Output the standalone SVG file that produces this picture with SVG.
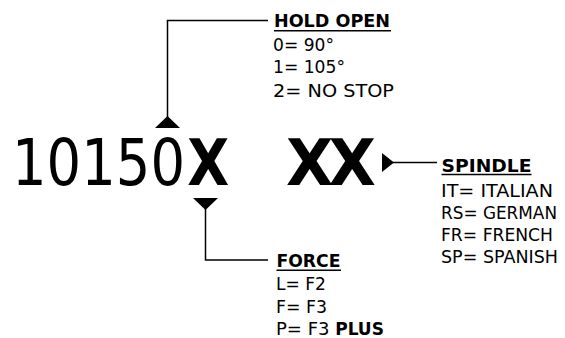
<svg xmlns="http://www.w3.org/2000/svg" width="565" height="338" viewBox="0 0 565 338">
<style>
.t{font-family:"DejaVu Sans","Liberation Sans",sans-serif;fill:#000}
.r{font-size:18px}
.b{font-size:17px;font-weight:bold}
.big{font-size:64px}
.bw{font-weight:bold}
.bx{font-size:64px;font-weight:bold}
.ul{stroke:#000;stroke-width:1.5}
.c{fill:none;stroke:#000;stroke-width:1.5}
.tri{fill:#000}
</style>
<rect width="565" height="338" fill="#fff"/>
<g id="code">
<text class="t big" transform="translate(12,185) scale(0.85,1)">10150<tspan class="bw" dx="2.5">X</tspan></text>
<text class="t bx" transform="translate(286,185) scale(0.96,1)" letter-spacing="-5">XX</text>
</g>
<g id="connectors">
<path class="c" d="M167.5,117 V20.5 H268"/>
<polygon class="tri" points="155,128 180,128 167.5,116"/>
<path class="c" d="M205.5,209 V260 H268"/>
<polygon class="tri" points="193,198 218,198 205.5,210"/>
<path class="c" d="M393,162.5 H437" stroke-width="1.2"/>
<polygon class="tri" points="382,153 382,172 394,162.5"/>
</g>
<g id="hold-open">
<text class="t b" x="274" y="27" textLength="116" lengthAdjust="spacingAndGlyphs">HOLD OPEN</text>
<line class="ul" x1="274" y1="30.7" x2="391" y2="30.7"/>
<text class="t r" x="273" y="50.5" textLength="61" lengthAdjust="spacingAndGlyphs">0= 90°</text>
<text class="t r" x="273" y="73" textLength="72" lengthAdjust="spacingAndGlyphs">1= 105°</text>
<text class="t r" x="273" y="96.5" textLength="121" lengthAdjust="spacingAndGlyphs">2= NO STOP</text>
</g>
<g id="spindle">
<text class="t b" x="441.5" y="171.7" textLength="90" lengthAdjust="spacingAndGlyphs">SPINDLE</text>
<line class="ul" x1="441.5" y1="174.5" x2="531.5" y2="174.5"/>
<text class="t r" x="441" y="196.7" textLength="112" lengthAdjust="spacingAndGlyphs">IT= ITALIAN</text>
<text class="t r" x="441" y="218.5" textLength="116" lengthAdjust="spacingAndGlyphs">RS= GERMAN</text>
<text class="t r" x="441" y="240.5" textLength="112" lengthAdjust="spacingAndGlyphs">FR= FRENCH</text>
<text class="t r" x="441" y="263" textLength="117" lengthAdjust="spacingAndGlyphs">SP= SPANISH</text>
</g>
<g id="force">
<text class="t b" x="276.5" y="267" textLength="64" lengthAdjust="spacingAndGlyphs">FORCE</text>
<line class="ul" x1="276.5" y1="270.2" x2="341" y2="270.2"/>
<text class="t r" x="276" y="290" textLength="50" lengthAdjust="spacingAndGlyphs">L= F2</text>
<text class="t r" x="276" y="312.5" textLength="51" lengthAdjust="spacingAndGlyphs">F= F3</text>
<text class="t r" x="276" y="334.5">P= F3 <tspan class="b">PLUS</tspan></text>
</g>
</svg>
